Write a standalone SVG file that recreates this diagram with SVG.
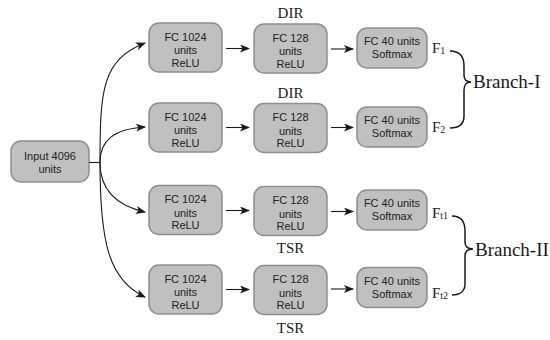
<svg xmlns="http://www.w3.org/2000/svg" width="550" height="340" viewBox="0 0 550 340">
  <defs>
    <marker id="arrow" viewBox="0 0 10 8" refX="9" refY="4" markerWidth="10" markerHeight="8" markerUnits="userSpaceOnUse" orient="auto">
      <path d="M0,0 L10,4 L0,8 L2.5,4 Z" fill="#1a1a1a"/>
    </marker>
  </defs>
  <style>
    .box { fill: #c0c0c0; stroke: #8f8f8f; stroke-width: 1.5; }
    .lbl { font-family: "Liberation Sans", Arial, sans-serif; font-size: 11px; fill: #222; text-anchor: middle; }
    .serif { font-family: "Liberation Serif", "Times New Roman", serif; fill: #1a1a1a; }
    .tag { font-size: 15px; text-anchor: middle; }
    .out { font-size: 15px; }
    .sub { font-size: 10px; }
    .branch { font-size: 19px; }
    .edge { fill: none; stroke: #1a1a1a; stroke-width: 1.1; }
    .brace { fill: none; stroke: #1a1a1a; stroke-width: 1.5; }
  </style>

  <!-- input layer -->
  <g id="input">
    <rect class="box" x="11" y="141" width="78" height="41" rx="10"/>
    <text class="lbl" x="50" y="159.5">Input 4096</text>
    <text class="lbl" x="50" y="173">units</text>
  </g>

  <!-- first dense layers -->
  <g id="fc1024-1">
    <rect class="box" x="149" y="23" width="73" height="49" rx="10"/>
    <text class="lbl" x="185.5" y="40.7">FC 1024</text>
    <text class="lbl" x="185.5" y="54">units</text>
    <text class="lbl" x="185.5" y="66.5">ReLU</text>
  </g>
  <g id="fc1024-2">
    <rect class="box" x="149" y="103" width="73" height="49" rx="10"/>
    <text class="lbl" x="185.5" y="120.7">FC 1024</text>
    <text class="lbl" x="185.5" y="134">units</text>
    <text class="lbl" x="185.5" y="146.5">ReLU</text>
  </g>
  <g id="fc1024-3">
    <rect class="box" x="149" y="185.5" width="73" height="49" rx="10"/>
    <text class="lbl" x="185.5" y="203.2">FC 1024</text>
    <text class="lbl" x="185.5" y="216.5">units</text>
    <text class="lbl" x="185.5" y="229">ReLU</text>
  </g>
  <g id="fc1024-4">
    <rect class="box" x="149" y="265" width="73" height="49" rx="10"/>
    <text class="lbl" x="185.5" y="282.7">FC 1024</text>
    <text class="lbl" x="185.5" y="296">units</text>
    <text class="lbl" x="185.5" y="308.5">ReLU</text>
  </g>

  <!-- second dense layers -->
  <g id="fc128-1">
    <rect class="box" x="254" y="24" width="73" height="49" rx="10"/>
    <text class="lbl" x="290.5" y="41.7">FC 128</text>
    <text class="lbl" x="290.5" y="55">units</text>
    <text class="lbl" x="290.5" y="67.5">ReLU</text>
  </g>
  <g id="fc128-2">
    <rect class="box" x="254" y="103.5" width="73" height="49" rx="10"/>
    <text class="lbl" x="290.5" y="121.2">FC 128</text>
    <text class="lbl" x="290.5" y="134.5">units</text>
    <text class="lbl" x="290.5" y="147">ReLU</text>
  </g>
  <g id="fc128-3">
    <rect class="box" x="254" y="186.5" width="73" height="49" rx="10"/>
    <text class="lbl" x="290.5" y="204.2">FC 128</text>
    <text class="lbl" x="290.5" y="217.5">units</text>
    <text class="lbl" x="290.5" y="230">ReLU</text>
  </g>
  <g id="fc128-4">
    <rect class="box" x="254" y="265.5" width="73" height="49" rx="10"/>
    <text class="lbl" x="290.5" y="283.2">FC 128</text>
    <text class="lbl" x="290.5" y="296.5">units</text>
    <text class="lbl" x="290.5" y="309">ReLU</text>
  </g>

  <!-- softmax output layers -->
  <g id="fc40-1">
    <rect class="box" x="357" y="28" width="70" height="40" rx="10"/>
    <text class="lbl" x="392" y="45">FC 40 units</text>
    <text class="lbl" x="392" y="58.3">Softmax</text>
  </g>
  <g id="fc40-2">
    <rect class="box" x="357" y="107" width="70" height="40" rx="10"/>
    <text class="lbl" x="392" y="124">FC 40 units</text>
    <text class="lbl" x="392" y="137.3">Softmax</text>
  </g>
  <g id="fc40-3">
    <rect class="box" x="357" y="190" width="70" height="40" rx="10"/>
    <text class="lbl" x="392" y="207">FC 40 units</text>
    <text class="lbl" x="392" y="220.3">Softmax</text>
  </g>
  <g id="fc40-4">
    <rect class="box" x="357" y="267.5" width="70" height="40" rx="10"/>
    <text class="lbl" x="392" y="284.5">FC 40 units</text>
    <text class="lbl" x="392" y="297.8">Softmax</text>
  </g>

  <!-- connectors -->
  <g id="connectors">
    <path class="edge" d="M89,162.5 L100,162.5"/>
    <path class="edge" marker-end="url(#arrow)" d="M100,162.5 C100,90 102,60 145,43"/>
    <path class="edge" marker-end="url(#arrow)" d="M100,162.5 C100,140 114,129 145,127"/>
    <path class="edge" marker-end="url(#arrow)" d="M100,162.5 C100,188 114,205 145,212"/>
    <path class="edge" marker-end="url(#arrow)" d="M100,162.5 C100,240 108,280 145,297"/>

    <path class="edge" marker-end="url(#arrow)" d="M226,48.5 L249,48.5"/>
    <path class="edge" marker-end="url(#arrow)" d="M226,127.5 L249,127.5"/>
    <path class="edge" marker-end="url(#arrow)" d="M226,210.5 L249,210.5"/>
    <path class="edge" marker-end="url(#arrow)" d="M226,289.5 L249,289.5"/>

    <path class="edge" marker-end="url(#arrow)" d="M331,49 L353,49"/>
    <path class="edge" marker-end="url(#arrow)" d="M331,127.5 L353,127.5"/>
    <path class="edge" marker-end="url(#arrow)" d="M331,211.5 L353,211.5"/>
    <path class="edge" marker-end="url(#arrow)" d="M331,289 L353,289"/>
  </g>

  <!-- task tags -->
  <g id="tags">
    <text class="serif tag" x="290.5" y="17.5">DIR</text>
    <text class="serif tag" x="290.5" y="97.5">DIR</text>
    <text class="serif tag" x="290.5" y="252.5">TSR</text>
    <text class="serif tag" x="290.5" y="332.5">TSR</text>
  </g>

  <!-- output names -->
  <g id="outputs">
    <text class="serif out" x="432" y="53">F<tspan class="sub" dy="0.5">1</tspan></text>
    <text class="serif out" x="432" y="132">F<tspan class="sub" dy="0.5">2</tspan></text>
    <text class="serif out" x="432" y="218">F<tspan class="sub" dy="0.5">t1</tspan></text>
    <text class="serif out" x="432" y="298">F<tspan class="sub" dy="0.5">t2</tspan></text>
  </g>

  <!-- branch grouping braces -->
  <g id="branch-1">
    <path class="brace" d="M450,51 C459,51 464,56 464,66 L464,75 C464,80 467,82 471,82 C467,82 464,85 464,90 L464,116 C464,124 459,128 450,128"/>
    <text class="serif branch" x="473" y="88">Branch-I</text>
  </g>
  <g id="branch-2">
    <path class="brace" d="M452,216 C461,216 465,221 465,231 L465,242 C465,247 468,249 473,249 C468,249 465,251 465,256 L465,284 C465,291 460,295 452,295"/>
    <text class="serif branch" x="475" y="256">Branch-II</text>
  </g>
</svg>
